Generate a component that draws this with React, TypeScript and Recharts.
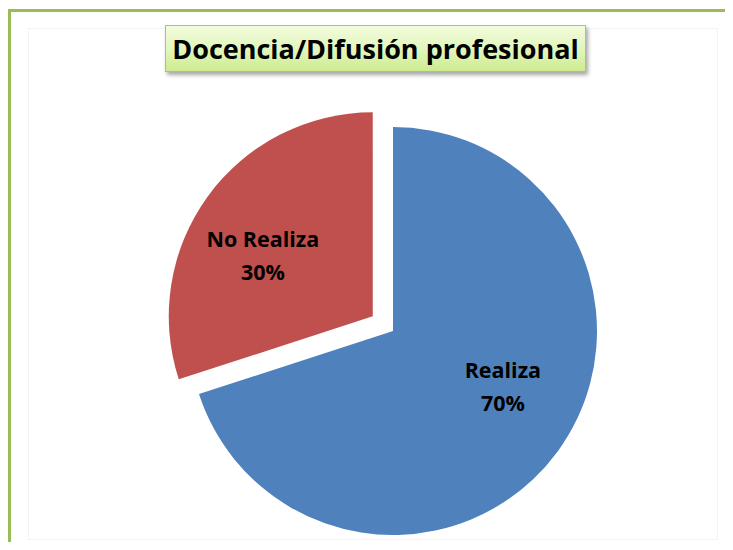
import React from "react";
import { PieChart, Pie, Cell } from "recharts";

const categories = ["Realiza", "No Realiza"];
const values = [70, 30];
const colors = ["#4F81BD", "#C0504D"];
const title = "Docencia/Difusión profesional";

const data = categories.map((name, i) => ({ name, value: values[i] }));
const total = values.reduce((a, b) => a + b, 0);

const CX = 393;
const CY = 331;
const R = 204;
const EXPLODE = 25;
const RAD = Math.PI / 180;
const FONT = "'Open Sans', Lato, sans-serif";

// mid angle (clockwise from top, degrees) of the exploded slice (index 1)
const startFrac = values[0] / total;
const midFrac = startFrac + values[1] / total / 2;
const midDeg = midFrac * 360;
const exCX = CX + EXPLODE * Math.sin(midDeg * RAD);
const exCY = CY - EXPLODE * Math.cos(midDeg * RAD);

const makeLabel = (showIndex: number) => (props: any) => {
  const { cx, cy, midAngle, outerRadius, index, name, percent } = props;
  if (index !== showIndex) return null;
  const ang = (midAngle + 8) * RAD;
  const r = outerRadius * 0.61;
  const x = cx + r * Math.cos(ang);
  const y = cy - r * Math.sin(ang);
  return (
    <text
      x={x}
      y={y}
      textAnchor="middle"
      fill="#000"
      fontFamily={FONT}
      fontWeight="bold"
      fontSize={21.5}
    >
      <tspan x={x} dy={-11}>{name}</tspan>
      <tspan x={x} dy={33}>{`${Math.round(percent * 100)}%`}</tspan>
    </text>
  );
};

export default function App() {
  return (
    <div style={{ position: "relative", width: 733, height: 550, margin: -8, overflow: "hidden", background: "#fff" }}>
      <div
        style={{
          position: "absolute",
          left: 8,
          top: 9,
          width: 740,
          height: 539,
          border: "3px solid #9BBB59",
          borderBottomColor: "#D8EDB8",
          boxSizing: "border-box",
        }}
      />
      <div
        style={{
          position: "absolute",
          left: 28,
          top: 28,
          width: 690,
          height: 512,
          border: "1px solid #f3f3f3",
          boxSizing: "border-box",
        }}
      />
      <div style={{ position: "absolute", left: 0, top: 0 }}>
        <PieChart width={733} height={550} margin={{ top: 0, right: 0, bottom: 0, left: 0 }}>
          <Pie
            data={data}
            dataKey="value"
            nameKey="name"
            cx={CX}
            cy={CY}
            outerRadius={R}
            startAngle={90}
            endAngle={-270}
            stroke="none"
            isAnimationActive={false}
            labelLine={false}
            label={makeLabel(0)}
          >
            {data.map((d, i) => (
              <Cell key={d.name} fill={i === 0 ? colors[0] : "none"} />
            ))}
          </Pie>
          <Pie
            data={data}
            dataKey="value"
            nameKey="name"
            cx={exCX}
            cy={exCY}
            outerRadius={R}
            startAngle={90}
            endAngle={-270}
            stroke="none"
            isAnimationActive={false}
            labelLine={false}
            label={makeLabel(1)}
          >
            {data.map((d, i) => (
              <Cell key={d.name} fill={i === 1 ? colors[1] : "none"} />
            ))}
          </Pie>
        </PieChart>
      </div>
      <div
        style={{
          position: "absolute",
          left: 165,
          top: 25,
          width: 421,
          height: 47,
          boxSizing: "border-box",
          border: "1px solid #A9C86A",
          background: "linear-gradient(to bottom, #F2FCDD 0%, #E1F5B9 55%, #CDEB8E 100%)",
          boxShadow: "2px 3px 4px rgba(0,0,0,0.35)",
          display: "flex",
          alignItems: "center",
          justifyContent: "center",
          fontFamily: FONT,
          fontWeight: "bold",
          fontSize: 27,
          color: "#000",
          whiteSpace: "nowrap",
        }}
      >
        {title}
      </div>
    </div>
  );
}
